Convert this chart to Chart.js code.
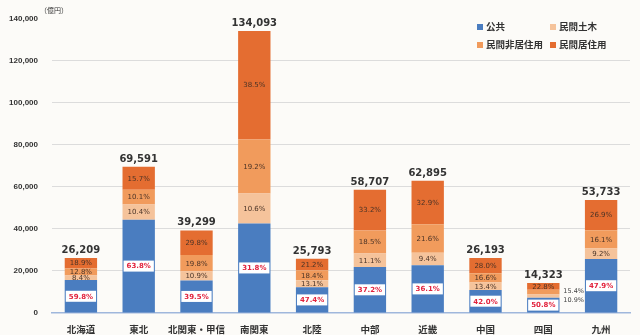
<!DOCTYPE html>
<html>
<head>
<meta charset="utf-8">
<script src="https://cdn.jsdelivr.net/npm/chart.js@4"></script>
<style>
  html, body { margin: 0; padding: 0; background: #fcfbf8; }
  #wrap { position: relative; width: 640px; height: 335px; }
  #unit { position: absolute; left: 40px; top: 5px; font: 7px "Noto Sans CJK JP"; color: #333; }
  .lg { position: absolute; font: bold 9.5px "Noto Sans CJK JP"; color: #333; white-space: nowrap; }
  .lg i { display: inline-block; width: 6px; height: 6px; margin-right: 3px; vertical-align: 0px; }
</style>
</head>
<body>
<div id="wrap">
  <canvas id="chart" width="640" height="335"></canvas>
  <div id="unit">（億円）</div>
  <div id="legend"></div>
</div>
<script>
const regions = ['北海道', '東北', '北関東・甲信', '南関東', '北陸', '中部', '近畿', '中国', '四国', '九州'];
const totals = [26209, 69591, 39299, 134093, 25793, 58707, 62895, 26193, 14323, 53733];

// 億円
const publicWorks = [15673, 44399, 15523, 42642, 12226, 21839, 22705, 11001, 7276, 25738];
const privateCivil = [2202, 7237, 4284, 14214, 3379, 6516, 5912, 3510, 1561, 4943];
const privateNonRes = [3355, 7029, 7781, 25746, 4746, 10861, 13585, 4348, 2206, 8651];
const privateRes = [4954, 10926, 11711, 51626, 5468, 19491, 20692, 7334, 3266, 14454];

const pctPublic = ['59.8%', '63.8%', '39.5%', '31.8%', '47.4%', '37.2%', '36.1%', '42.0%', '50.8%', '47.9%'];
const pctCivil = ['8.4%', '10.4%', '10.9%', '10.6%', '13.1%', '11.1%', '9.4%', '13.4%', '10.9%', '9.2%'];
const pctNonRes = ['12.8%', '10.1%', '19.8%', '19.2%', '18.4%', '18.5%', '21.6%', '16.6%', '15.4%', '16.1%'];
const pctRes = ['18.9%', '15.7%', '29.8%', '38.5%', '21.2%', '33.2%', '32.9%', '28.0%', '22.8%', '26.9%'];

const seriesNames = ['公共', '民間土木', '民間非居住用', '民間居住用'];
const colors = ['#4a7dc0', '#f5c39b', '#f19b5c', '#e46d31'];
const yTicks = [0, 20000, 40000, 60000, 80000, 100000, 120000, 140000];

// regions whose small segment labels sit outside the bar
const outsideLabels = ['四国'];

const pcts = [pctPublic, pctCivil, pctNonRes, pctRes];

// legend 2x2
const legendPos = [[477, 19], [550, 19], [477, 37], [550, 37]];
const legend = document.getElementById('legend');
seriesNames.forEach((name, i) => {
    const d = document.createElement('div');
    d.className = 'lg';
    d.style.left = legendPos[i][0] + 'px';
    d.style.top = legendPos[i][1] + 'px';
    d.innerHTML = `<i style="background:${colors[i]}"></i>${name}`;
    legend.appendChild(d);
});

const labelPlugin = {
    id: 'labels',
    afterDatasetsDraw(chart) {
        const ctx = chart.ctx;
        ctx.save();
        ctx.textAlign = 'center';
        ctx.textBaseline = 'middle';
        chart.data.datasets.forEach((ds, di) => {
            const meta = chart.getDatasetMeta(di);
            meta.data.forEach((bar, i) => {
                const cy = (bar.y + bar.base) / 2;
                const text = pcts[di][i];
                if (di === 0) {
                    ctx.font = 'bold 7px "DejaVu Sans"';
                    const w = ctx.measureText(text).width + 6;
                    ctx.fillStyle = '#ffffff';
                    ctx.fillRect(bar.x - w / 2, cy - 5.5, w, 11);
                    ctx.fillStyle = '#e2233d';
                    ctx.fillText(text, bar.x, cy + 0.5);
                } else if (outsideLabels.includes(regions[i]) && di < 3) {
                    ctx.font = '6.5px "DejaVu Sans"';
                    ctx.fillStyle = '#444';
                    ctx.textAlign = 'left';
                    ctx.fillText(text, bar.x + 20, di === 2 ? cy - 1 : cy + 4);
                    ctx.textAlign = 'center';
                } else {
                    ctx.font = '7px "DejaVu Sans"';
                    ctx.fillStyle = '#4a3326';
                    ctx.fillText(text, bar.x, cy + 0.5);
                }
            });
        });
        // totals
        const top = chart.getDatasetMeta(3);
        ctx.font = 'bold 10px "DejaVu Sans"';
        ctx.fillStyle = '#333';
        ctx.textBaseline = 'alphabetic';
        top.data.forEach((bar, i) => {
            ctx.fillText(totals[i].toLocaleString('en-US'), bar.x, bar.y - 5);
        });
        ctx.restore();
    }
};

const datasetValues = [publicWorks, privateCivil, privateNonRes, privateRes];

new Chart(document.getElementById('chart').getContext('2d'), {
    type: 'bar',
    data: {
        labels: regions,
        datasets: datasetValues.map((vals, i) => ({
            label: seriesNames[i],
            data: vals,
            backgroundColor: colors[i],
            borderWidth: 0,
            barPercentage: 0.56,
            categoryPercentage: 1
        }))
    },
    options: {
        responsive: false,
        animation: false,
        layout: { padding: { top: 16, right: 10, left: 0, bottom: 0 } },
        plugins: {
            legend: { display: false },
            tooltip: { enabled: false }
        },
        scales: {
            x: {
                stacked: true,
                grid: { display: false },
                border: { color: '#9fb7dc', width: 1.5 },
                ticks: {
                    font: { family: '"Noto Sans CJK JP"', size: 9.5, weight: 'bold' },
                    color: '#333',
                    padding: 3,
                    maxRotation: 0,
                    minRotation: 0,
                    autoSkip: false
                },
                afterFit(scale) { scale.height = 22; }
            },
            y: {
                stacked: true,
                min: 0,
                max: 140000,
                afterBuildTicks(scale) { scale.ticks = yTicks.map(v => ({ value: v })); },
                grid: {
                    drawTicks: false,
                    color: ctx => (ctx.tick.value === 0 || ctx.tick.value === 140000) ? 'rgba(0,0,0,0)' : '#dcdcdc'
                },
                border: { display: false },
                ticks: {
                    font: { family: '"Liberation Sans"', size: 8, weight: 'bold' },
                    color: '#333',
                    padding: 14,
                    callback: v => v.toLocaleString('en-US')
                },
                afterFit(scale) { scale.width = 52; }
            }
        }
    },
    plugins: [labelPlugin]
});
</script>
</body>
</html>
